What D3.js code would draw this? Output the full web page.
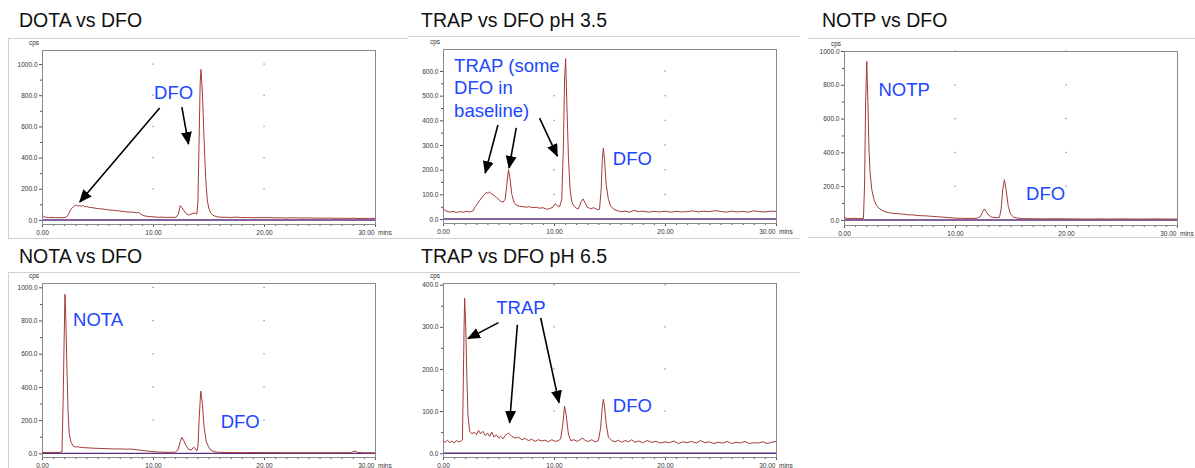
<html lang="en">
<head>
<script src="https://cdn.jsdelivr.net/npm/d3@7"></script>
<style>
body{margin:0;background:white;}
text{font-family:"Liberation Sans",Arial,Helvetica,sans-serif;}
</style>
</head>
<body>
<div id="drawarea"></div>
<script>
// chromatogram traces, [time in mins, cps]
const dotaTrace=[[0,30],[0.15,22],[0.3,18],[0.6,15],[0.9,16],[1.2,14],[1.5,15],[1.8,14],[2.1,16],[2.35,30],[2.55,62],[2.75,80],[2.95,90],[3.1,96],[3.25,88],[3.4,92],[3.55,86],[3.7,94],[3.85,84],[4.0,86],[4.3,80],[4.6,78],[4.9,74],[5.2,72],[5.5,70],[5.8,66],[6.1,64],[6.4,62],[6.7,60],[7.0,57],[7.3,55],[7.6,52],[7.9,50],[8.2,50],[8.5,46],[8.7,48],[8.9,38],[9.1,28],[9.4,24],[9.7,22],[10.0,20],[10.3,18],[10.6,17],[10.9,18],[11.2,16],[11.5,17],[11.8,16],[12.1,18],[12.3,40],[12.45,92],[12.6,80],[12.8,58],[13.0,40],[13.2,32],[13.4,36],[13.6,42],[13.8,44],[13.95,38],[14.05,120],[14.15,500],[14.25,880],[14.32,965],[14.45,820],[14.6,520],[14.75,260],[14.9,120],[15.05,70],[15.2,45],[15.4,30],[15.7,22],[16.0,18],[16.5,17],[17,16],[17.5,18],[18,15],[18.5,16],[19,14],[19.5,15],[20,14],[20.5,15],[21,13],[21.5,14],[22,12],[22.5,14],[23,13],[23.5,12],[24,13],[24.5,11],[25,12],[25.5,11],[26,12],[26.5,10],[27,11],[27.5,10],[28,11],[28.5,9],[29,10],[29.5,10],[30,10]]
const trap35Trace=[[0,45],[0.1,38],[0.3,32],[0.6,28],[0.9,31],[1.2,27],[1.5,30],[1.8,28],[2.1,31],[2.4,29],[2.7,33],[2.9,50],[3.1,62],[3.3,75],[3.5,88],[3.7,96],[3.9,108],[4.05,104],[4.2,110],[4.4,100],[4.6,96],[4.8,88],[5.0,80],[5.2,72],[5.4,68],[5.6,80],[5.75,140],[5.9,200],[6.05,160],[6.2,100],[6.4,68],[6.6,56],[6.9,52],[7.2,50],[7.5,48],[7.8,50],[8.1,46],[8.4,48],[8.7,44],[9.0,46],[9.3,40],[9.6,42],[9.9,48],[10.1,62],[10.3,54],[10.5,50],[10.7,80],[10.85,300],[10.95,560],[11.05,650],[11.15,480],[11.3,250],[11.45,120],[11.6,70],[11.8,52],[12.0,44],[12.2,42],[12.45,70],[12.6,82],[12.8,66],[13.0,48],[13.3,42],[13.6,46],[13.9,38],[14.1,40],[14.25,120],[14.35,240],[14.45,288],[14.55,240],[14.7,140],[14.9,80],[15.1,52],[15.4,40],[15.7,34],[16,30],[16.4,32],[16.8,28],[17.2,35],[17.6,30],[18,32],[18.5,28],[19,31],[19.5,29],[20,32],[20.5,28],[21,31],[21.5,29],[22,30],[22.5,33],[23,29],[23.5,32],[24,30],[24.5,34],[25,31],[25.5,28],[26,32],[26.5,29],[27,31],[27.5,28],[28,33],[28.5,30],[29,29],[29.5,32],[30,31]]
const notpTrace=[[0,12],[0.3,9],[0.6,8],[0.9,10],[1.2,8],[1.5,9],[1.75,8],[1.85,200],[1.95,700],[2.05,938],[2.15,700],[2.25,420],[2.35,280],[2.5,180],[2.7,120],[2.9,90],[3.1,72],[3.4,58],[3.7,48],[4.0,44],[4.3,40],[4.6,38],[5.0,36],[5.4,34],[5.8,30],[6.2,30],[6.6,26],[7.0,25],[7.4,24],[7.8,22],[8.2,20],[8.6,18],[9.0,16],[9.4,14],[9.8,12],[10.2,10],[10.6,10],[11.0,9],[11.5,9],[12.0,10],[12.3,20],[12.5,50],[12.65,65],[12.8,50],[13.0,30],[13.3,16],[13.7,14],[14.0,15],[14.15,60],[14.3,180],[14.45,238],[14.6,180],[14.8,80],[15.0,35],[15.3,16],[15.7,10],[16,8],[17,7],[18,6],[19,7],[20,6],[21,6],[22,5],[23,6],[24,5],[25,6],[26,5],[27,5],[28,6],[29,5],[30,5]]
const notaTrace=[[0,6],[0.4,5],[0.8,6],[1.2,5],[1.6,6],[1.8,8],[1.9,300],[2.0,700],[2.07,958],[2.15,800],[2.25,500],[2.35,250],[2.45,120],[2.6,70],[2.8,45],[3.0,38],[3.2,40],[3.5,36],[3.8,34],[4.2,33],[4.6,31],[5.0,30],[5.5,29],[6.0,28],[6.5,26],[7.0,27],[7.5,25],[8.0,26],[8.5,22],[9.0,18],[9.5,14],[10.0,10],[10.5,8],[11.0,7],[11.5,6],[12.0,7],[12.25,20],[12.45,70],[12.6,96],[12.75,80],[12.95,50],[13.2,25],[13.45,20],[13.65,36],[13.8,30],[13.95,15],[14.05,40],[14.15,200],[14.3,375],[14.45,300],[14.6,160],[14.8,70],[15.0,40],[15.2,20],[15.5,10],[16,6],[17,5],[18,4],[19,5],[20,4],[21,4],[22,3],[23,4],[24,3],[25,4],[26,3],[27,4],[27.8,4],[28.0,10],[28.2,14],[28.4,6],[29,3],[30,3]]
const trap65Trace=[[0,30],[0.2,26],[0.4,31],[0.6,25],[0.8,29],[1.0,24],[1.2,30],[1.4,27],[1.6,28],[1.75,32],[1.82,150],[1.9,300],[1.95,368],[2.05,300],[2.15,180],[2.25,90],[2.4,52],[2.6,46],[2.8,50],[3.0,44],[3.2,54],[3.4,46],[3.6,52],[3.8,42],[4.0,48],[4.2,40],[4.4,50],[4.6,38],[4.8,44],[5.0,36],[5.2,40],[5.4,34],[5.6,42],[5.9,48],[6.2,40],[6.5,36],[6.8,38],[7.1,32],[7.4,35],[7.7,30],[8.0,33],[8.3,28],[8.6,32],[8.9,29],[9.2,31],[9.5,27],[9.8,32],[10.1,28],[10.4,30],[10.6,34],[10.8,70],[10.95,112],[11.1,90],[11.3,45],[11.5,30],[11.8,32],[12.1,28],[12.4,33],[12.6,36],[12.8,30],[13.1,28],[13.4,32],[13.7,27],[14.0,30],[14.2,60],[14.35,110],[14.45,128],[14.55,110],[14.7,70],[14.9,38],[15.2,30],[15.5,27],[15.8,31],[16.1,26],[16.4,30],[16.7,27],[17.0,32],[17.3,26],[17.6,29],[18,25],[18.4,30],[18.8,26],[19.2,28],[19.6,24],[20,27],[20.4,25],[20.8,29],[21.2,23],[21.6,27],[22,25],[22.4,28],[22.8,24],[23.2,30],[23.6,25],[24,27],[24.4,23],[24.8,26],[25.2,24],[25.6,28],[26,23],[26.4,26],[26.8,24],[27.2,28],[27.6,23],[28,25],[28.4,24],[28.8,27],[29.2,23],[29.6,26],[30,28]]

const titles=["DOTA vs DFO","TRAP vs DFO pH 3.5","NOTP vs DFO","NOTA vs DFO","TRAP vs DFO pH 6.5"]
const yTicks=[[0,200,400,600,800,1000],[0,100,200,300,400,500,600],[0,200,400,600,800,1000],[0,200,400,600,800,1000],[0,100,200,300,400]]
const yDomains=[[-26,1090],[-16,689],[-30,1000],[-22,1026],[-9,404]]
const xTicks=[0,10,20,30]
const xTickLabels=["0.00","10.00","20.00","30.00"]

// labels: [text lines, time, cps] ; arrows: [fromT, fromV, toT, toV]
const labels=[
 [[["DFO"],10.1,776]],
 [[["TRAP (some","DFO in","baseline)"],1.0,596],[["DFO"],15.3,219]],
 [[["NOTP"],3.1,734],[["DFO"],16.4,118]],
 [[["NOTA"],2.8,767],[["DFO"],16.1,152]],
 [[["TRAP"],4.8,331],[["DFO"],15.3,98]]
]
const arrows=[
 [[10.6,718,3.4,115],[12.6,724,13.2,487]],
 [[4.95,381,3.8,186],[6.6,369,5.95,207],[8.7,409,10.3,255]],
 [],
 [],
 [[5.0,310,2.25,272],[6.7,305,6.0,72],[8.8,321,10.45,120]]
]
const traces=[dotaTrace,trap35Trace,notpTrace,notaTrace,trap65Trace]

// layout of each panel (pixels)
const boxes=[
 {l:42,r:375,t:50,b:224,tx:19,ty:27,fx:8,fy:38,fw:400,fh:200,fleft:true},
 {l:443,r:776,t:49,b:223,tx:421,ty:27,fx:408,fy:36,fw:392,fh:202,fleft:false},
 {l:844,r:1177,t:51,b:225,tx:822,ty:27,fx:808,fy:38,fw:400,fh:199,fleft:false},
 {l:42,r:375,t:283,b:457,tx:19,ty:263,fx:8,fy:272,fw:400,fh:220,fleft:true},
 {l:443,r:776,t:283,b:457,tx:421,ty:263,fx:408,fy:272,fw:392,fh:220,fleft:false}
]

const svg=d3.select("#drawarea").append("svg").attr("width",1195).attr("height",468)
svg.append("rect").attr("width",1195).attr("height",468).attr("fill","white")
svg.append("defs").append("marker").attr("id","arrowhead")
 .attr("markerUnits","userSpaceOnUse").attr("markerWidth",14).attr("markerHeight",12)
 .attr("refX",12).attr("refY",5.5).attr("orient","auto")
 .append("path").attr("d","M0,0 L13,5.5 L0,11 Z").attr("fill","black")

boxes.forEach((b,i)=>{
 const g=svg.append("g")
 // outer frame lines
 g.append("line").attr("x1",b.fx).attr("x2",b.fx+b.fw).attr("y1",b.fy+0.5).attr("y2",b.fy+0.5).attr("stroke","#d2d2d2")
 g.append("line").attr("x1",b.fx).attr("x2",b.fx+b.fw).attr("y1",b.fy+b.fh+0.5).attr("y2",b.fy+b.fh+0.5).attr("stroke","#d2d2d2")
 if(b.fleft){g.append("line").attr("x1",b.fx+0.5).attr("x2",b.fx+0.5).attr("y1",b.fy).attr("y2",b.fy+b.fh).attr("stroke","#d2d2d2")}
 // title
 g.append("text").attr("x",b.tx).attr("y",b.ty).text(titles[i]).style("font-size","19.5px").attr("fill","#111")

 const x=d3.scaleLinear().domain([0,30]).range([b.l,b.r])
 const y=d3.scaleLinear().domain(yDomains[i]).range([b.b,b.t])

 // grid dots
 const ticks=yTicks[i]
 ticks.filter(v=>v>0).forEach(v=>{[10,20].forEach(t=>{
  g.append("rect").attr("x",x(t)-0.6).attr("y",y(v)-0.6).attr("width",1.3).attr("height",1.3).attr("fill","#7c84f0")
 })})

 // y axis
 const step=ticks[1]-ticks[0]
 const minor=d3.range(ticks[0]+step/2,ticks[ticks.length-1],step)
 const ya=g.append("g").attr("transform","translate("+b.l+",0)")
  .call(d3.axisLeft(y).tickValues(ticks).tickSize(3).tickPadding(1.5).tickFormat(d3.format(".1f")))
 const ym=g.append("g").attr("transform","translate("+b.l+",0)")
  .call(d3.axisLeft(y).tickValues(minor).tickSize(2).tickFormat(""))
 // x axis
 const xa=g.append("g").attr("transform","translate(0,"+b.b+")")
  .call(d3.axisBottom(x).tickValues(xTicks).tickSize(3).tickPadding(3).tickFormat((d,k)=>xTickLabels[k]))
 const xm=g.append("g").attr("transform","translate(0,"+b.b+")")
  .call(d3.axisBottom(x).tickValues(d3.range(1,30).filter(d=>d%10!=0)).tickSize(2).tickFormat(""))
 ;[ya,ym,xa,xm].forEach(a=>{a.select(".domain").remove();a.selectAll("line").attr("stroke","#555")
   a.selectAll("text").style("font-size","6.5px").attr("fill","#333").style("font-family","Liberation Sans, Arial, sans-serif")})
 xa.selectAll(".tick text").filter((d)=>d==30).attr("text-anchor","end").attr("dx","-1")
 g.append("text").attr("x",b.r+3).attr("y",b.b+10.5).text("mins").style("font-size","6.5px").attr("fill","#333")
 g.append("text").attr("x",b.l-8).attr("y",b.t-5).attr("text-anchor","middle").text("cps").style("font-size","6.5px").attr("fill","#333")

 // plot frame
 g.append("rect").attr("x",b.l+0.5).attr("y",b.t+0.5).attr("width",b.r-b.l).attr("height",b.b-b.t).attr("fill","none").attr("stroke","#8a8a8a")

 // zero baseline
 g.append("line").attr("x1",b.l+1).attr("x2",b.r).attr("y1",y(0)).attr("y2",y(0)).attr("stroke","#5a2e80").attr("stroke-width",1.4)

 // trace
 const line=d3.line().x(d=>x(d[0])).y(d=>y(d[1]))
 g.append("path").datum(traces[i]).attr("d",line).attr("fill","none").attr("stroke","#a33a36").attr("stroke-width",1)

 // annotations
 labels[i].forEach(lb=>{
  lb[0].forEach((s,k)=>{
   g.append("text").attr("x",x(lb[1])).attr("y",y(lb[2])+k*22.5).text(s).style("font-size","18.5px").attr("fill","#2146ff")
  })
 })
 arrows[i].forEach(a=>{
  g.append("line").attr("x1",x(a[0])).attr("y1",y(a[1])).attr("x2",x(a[2])).attr("y2",y(a[3]))
   .attr("stroke","black").attr("stroke-width",1.6).attr("marker-end","url(#arrowhead)")
 })
})
</script>
</body>
</html>
